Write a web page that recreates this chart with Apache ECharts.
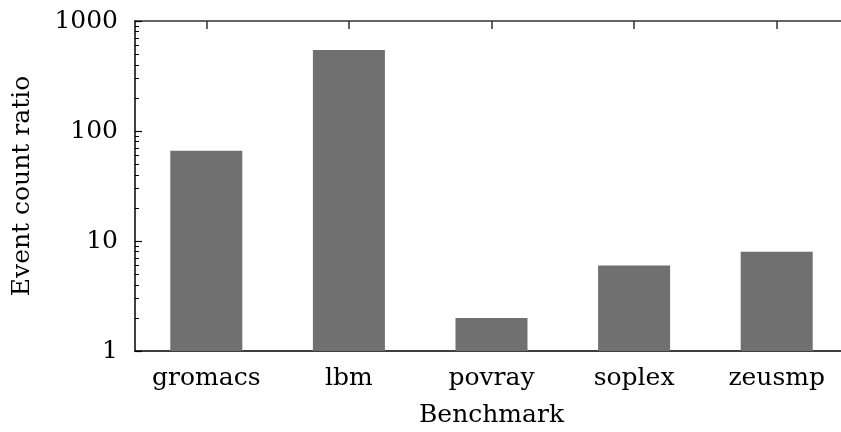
<!DOCTYPE html>
<html>
<head>
<meta charset="utf-8">
<script src="https://cdn.jsdelivr.net/npm/echarts@6/dist/echarts.min.js"></script>
<style>html,body{margin:0;padding:0;background:#fff}#c{width:841px;height:432px}</style>
</head>
<body>
<div id="c"></div>
<script>
const categories = ['gromacs', 'lbm', 'povray', 'soplex', 'zeusmp'];
const ratios = [66, 545, 2, 6, 8];
const majorTicks = [1, 10, 100, 1000];
const minorTicks = [2,3,4,5,6,7,8,9,20,30,40,50,60,70,80,90,200,300,400,500,600,700,800,900];

const FONT = 'DejaVu Serif';
const chart = echarts.init(document.getElementById('c'), null, {renderer: 'canvas'});
chart.setOption({
  animation: false,
  grid: {left: 135, top: 21, width: 713, height: 330, containLabel: false, outerBoundsMode: 'none'},
  xAxis: [{
    type: 'category', data: categories, position: 'bottom',
    axisLine: {lineStyle: {color: '#000', width: 1.5}},
    axisTick: {show: false},
    axisLabel: {color: '#000', fontFamily: FONT, fontSize: 25, margin: 15},
    name: 'Benchmark', nameLocation: 'middle', nameGap: 52,
    nameTextStyle: {color: '#000', fontFamily: FONT, fontSize: 25}
  }, {
    type: 'category', data: categories, position: 'top',
    axisLine: {lineStyle: {color: '#333', width: 1.5}},
    axisTick: {show: true, inside: true, length: 8, alignWithLabel: true, lineStyle: {color: '#333', width: 1.5}},
    axisLabel: {show: false}
  }],
  yAxis: [{
    type: 'log', logBase: 10, min: 1, max: 1000, position: 'left',
    axisLine: {show: true, lineStyle: {color: '#000', width: 1.5}},
    axisTick: {show: true, inside: true, length: 7, customValues: majorTicks, lineStyle: {color: '#000', width: 1.2}},
    axisLabel: {color: '#000', fontFamily: FONT, fontSize: 25, margin: 17, customValues: majorTicks,
      formatter: function (v) { return String(Math.round(v)); }},
    splitLine: {show: false},
    name: 'Event count ratio', nameLocation: 'middle', nameGap: 100,
    nameTextStyle: {color: '#000', fontFamily: FONT, fontSize: 25}
  }, {
    type: 'log', logBase: 10, min: 1, max: 1000, position: 'left',
    axisLine: {show: false},
    axisTick: {show: true, inside: true, length: 4, customValues: minorTicks, lineStyle: {color: '#000', width: 1}},
    axisLabel: {show: false},
    splitLine: {show: false}
  }],
  series: [{
    type: 'bar', data: ratios, xAxisIndex: 0, yAxisIndex: 0,
    barWidth: '50.5%',
    itemStyle: {color: '#707070'}
  }]
});
</script>
</body>
</html>
